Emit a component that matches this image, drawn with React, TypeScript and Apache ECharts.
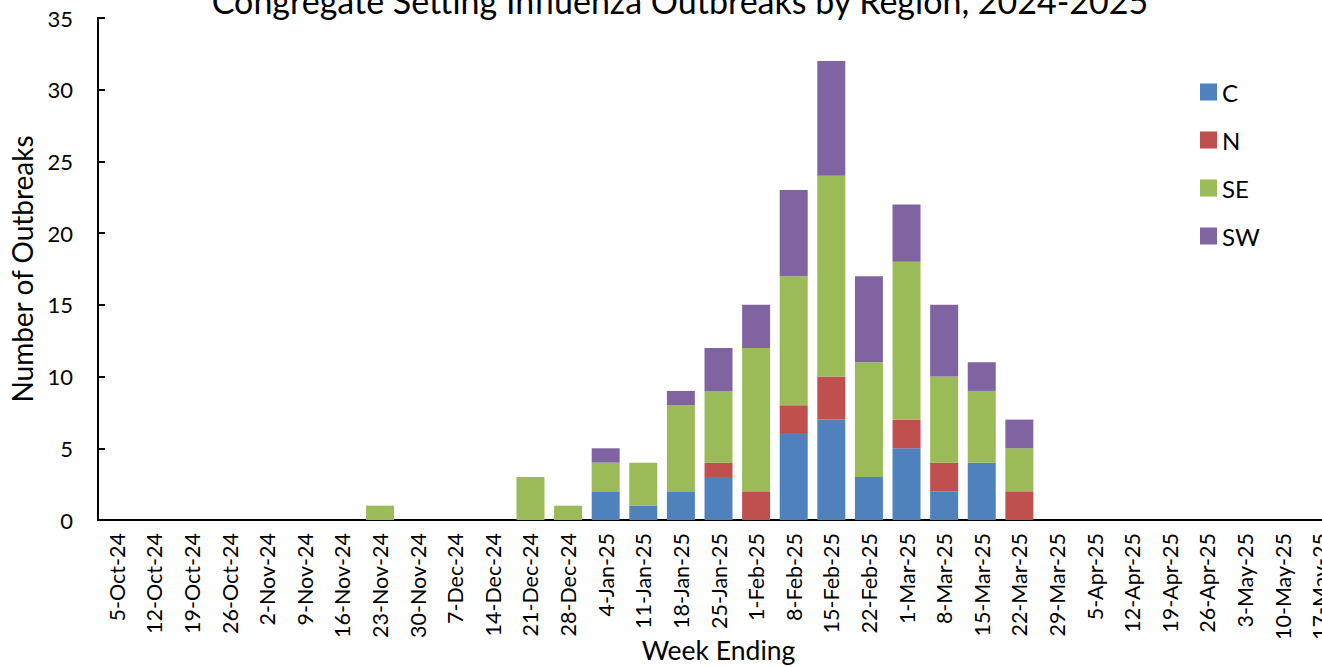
import React, { useEffect, useRef } from "react";
import * as echarts from "echarts";

const weeks = [
  "5-Oct-24", "12-Oct-24", "19-Oct-24", "26-Oct-24", "2-Nov-24", "9-Nov-24", "16-Nov-24",
  "23-Nov-24", "30-Nov-24", "7-Dec-24", "14-Dec-24", "21-Dec-24", "28-Dec-24", "4-Jan-25",
  "11-Jan-25", "18-Jan-25", "25-Jan-25", "1-Feb-25", "8-Feb-25", "15-Feb-25", "22-Feb-25",
  "1-Mar-25", "8-Mar-25", "15-Mar-25", "22-Mar-25", "29-Mar-25", "5-Apr-25", "12-Apr-25",
  "19-Apr-25", "26-Apr-25", "3-May-25", "10-May-25", "17-May-25",
];

const regionC = [0, 0, 0, 0, 0, 0, 0, 0, 0, 0, 0, 0, 0, 2, 1, 2, 3, 0, 6, 7, 3, 5, 2, 4, 0, 0, 0, 0, 0, 0, 0, 0, 0];
const regionN = [0, 0, 0, 0, 0, 0, 0, 0, 0, 0, 0, 0, 0, 0, 0, 0, 1, 2, 2, 3, 0, 2, 2, 0, 2, 0, 0, 0, 0, 0, 0, 0, 0];
const regionSE = [0, 0, 0, 0, 0, 0, 0, 1, 0, 0, 0, 3, 1, 2, 3, 6, 5, 10, 9, 14, 8, 11, 6, 5, 3, 0, 0, 0, 0, 0, 0, 0, 0];
const regionSW = [0, 0, 0, 0, 0, 0, 0, 0, 0, 0, 0, 0, 0, 1, 0, 1, 3, 3, 6, 8, 6, 4, 5, 2, 2, 0, 0, 0, 0, 0, 0, 0, 0];

const seriesNames = ["C", "N", "SE", "SW"];
const seriesColors = ["#4F81BD", "#C0504D", "#9BBB59", "#8064A2"];
const yTicks = { min: 0, max: 35, interval: 5 };
const titleText = "Congregate Setting Influenza Outbreaks by Region, 2024-2025";

const FONT = "Lato, 'Noto Sans', sans-serif";
const OFFSET = 40;

export default function App() {
  const ref = useRef<HTMLDivElement>(null);

  useEffect(() => {
    if (!ref.current) return;
    const chart = echarts.init(ref.current, null, { renderer: "svg" });
    const values = [regionC, regionN, regionSE, regionSW];
    chart.setOption({
      animation: false,
      textStyle: { fontFamily: FONT, color: "#000" },
      graphic: [
        {
          type: "text",
          x: 680,
          y: 0 + OFFSET,
          style: {
            text: titleText,
            font: `34px ${FONT}`,
            fill: "#000",
            textAlign: "center",
            textVerticalAlign: "middle",
          },
        },
      ],
      legend: {
        orient: "vertical",
        left: 1200,
        top: 80 + OFFSET,
        padding: 0,
        itemWidth: 17,
        itemHeight: 17,
        itemGap: 24,
        icon: "rect",
        data: seriesNames,
        textStyle: { fontFamily: FONT, fontSize: 24, color: "#000", lineHeight: 24 },
      },
      grid: { left: 98, top: 18 + OFFSET, width: 1241, height: 502, containLabel: false, outerBoundsMode: "none" },
      xAxis: {
        type: "category",
        data: weeks,
        name: "Week Ending",
        nameLocation: "middle",
        nameGap: 116,
        nameMoveOverlap: false,
        nameTextStyle: { fontFamily: FONT, fontSize: 26.5, color: "#000" },
        axisLine: { lineStyle: { color: "#000", width: 2 } },
        axisTick: { inside: true, length: 7, lineStyle: { color: "#000", width: 2 } },
        axisLabel: { rotate: 90, margin: 13, fontFamily: FONT, fontSize: 21.5, color: "#000", interval: 0 },
        splitLine: { show: false },
      },
      yAxis: {
        type: "value",
        min: yTicks.min,
        max: yTicks.max,
        interval: yTicks.interval,
        name: "Number of Outbreaks",
        nameLocation: "middle",
        nameGap: 62,
        nameMoveOverlap: false,
        nameTextStyle: { fontFamily: FONT, fontSize: 28, color: "#000" },
        axisLine: { show: true, lineStyle: { color: "#000", width: 2 } },
        axisTick: { show: true, inside: true, length: 7, lineStyle: { color: "#000", width: 2 } },
        axisLabel: { margin: 25, fontFamily: FONT, fontSize: 22, color: "#000" },
        splitLine: { show: false },
      },
      series: seriesNames.map((name, i) => ({
        name,
        type: "bar",
        stack: "total",
        data: values[i],
        barWidth: 28,
        itemStyle: { color: seriesColors[i] },
      })),
    });
    return () => chart.dispose();
  }, []);

  return (
    <div style={{ position: "fixed", left: 0, top: 0, width: 1322, height: 667, overflow: "hidden", background: "#fff" }}>
      <div ref={ref} style={{ position: "absolute", left: 0, top: -OFFSET, width: 1380, height: 667 + OFFSET }} />
    </div>
  );
}
